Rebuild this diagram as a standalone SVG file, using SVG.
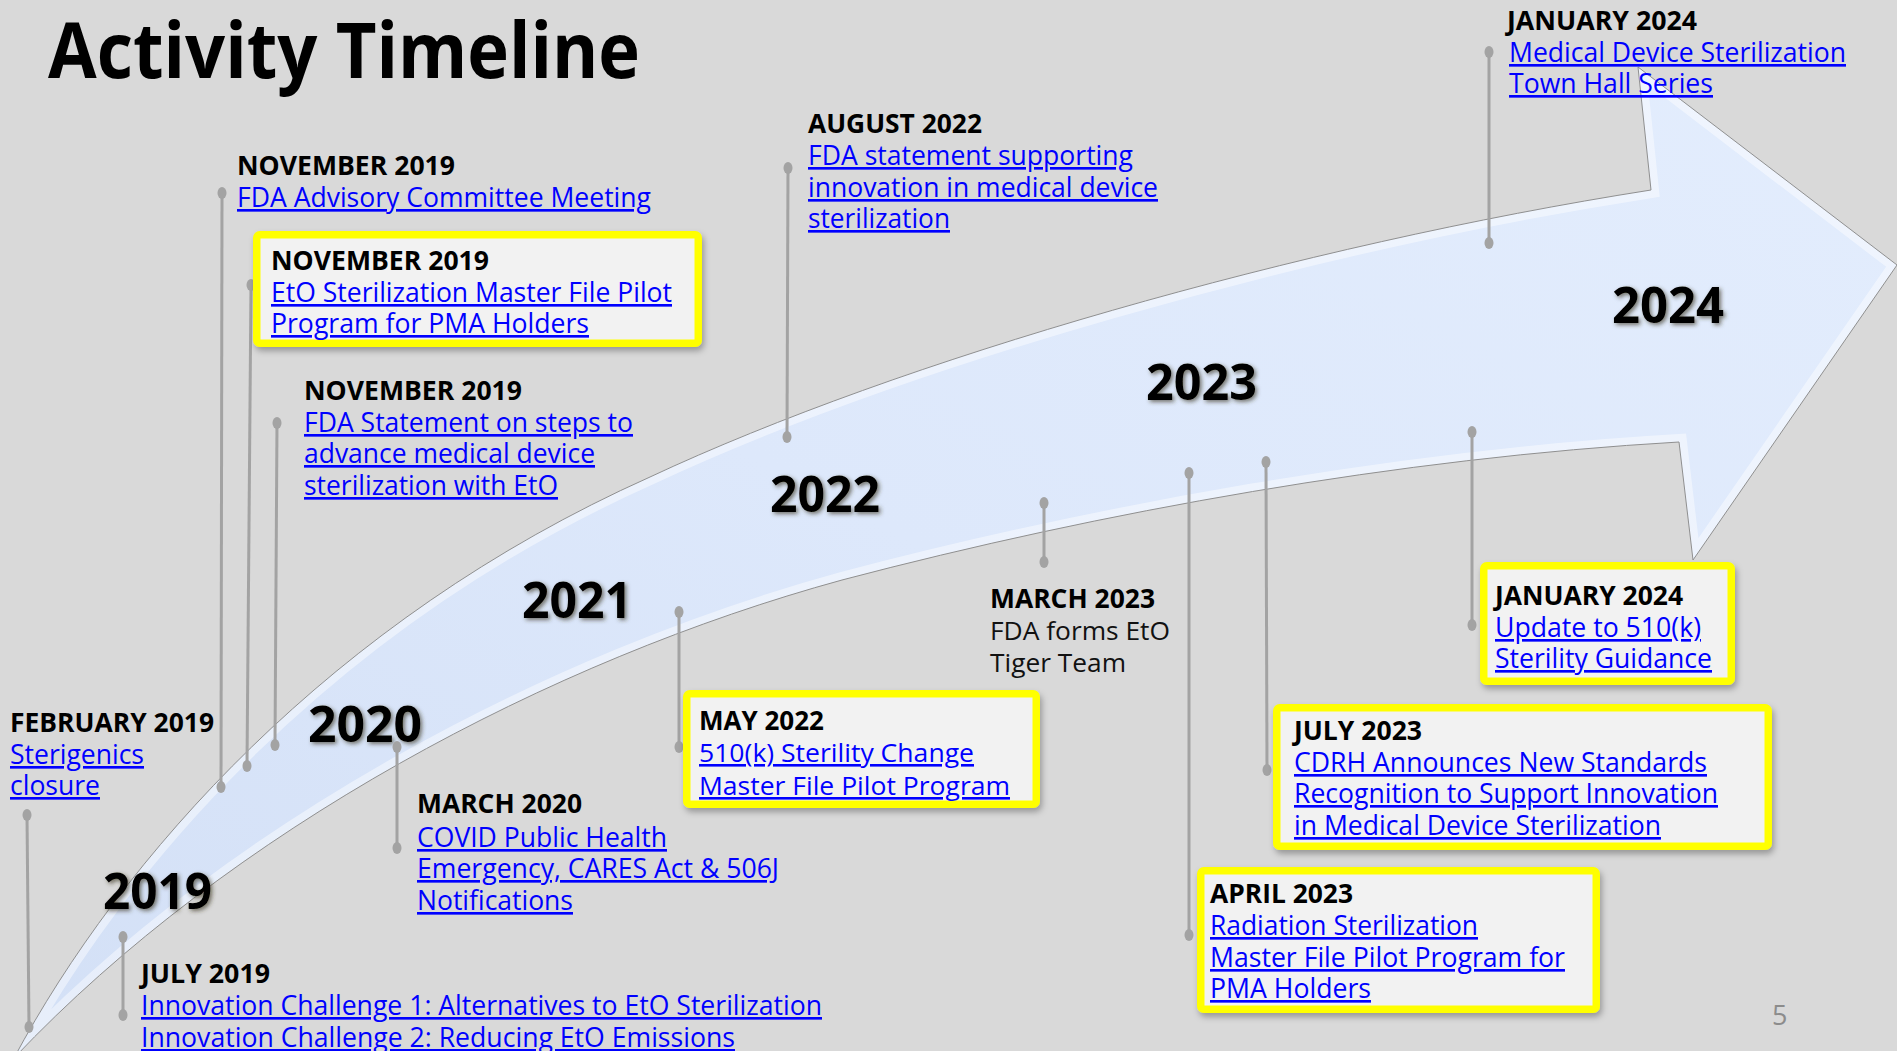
<svg xmlns="http://www.w3.org/2000/svg" width="1897" height="1051" viewBox="0 0 1897 1051">
  <defs>
    <style>
      text { font-family: "Open Sans", "Liberation Sans", sans-serif; }
      .lbl { font-size: 26.5px; font-weight: 700; fill: #000; }
      .lnk { font-size: 26.5px; fill: #0000ff; text-decoration: underline; }
      .plain { font-size: 26px; fill: #111; }
      .year { font-size: 50px; font-weight: 700; fill: #000; filter: url(#glow); }
      .title { font-size: 77px; font-weight: 700; fill: #000; }
      .stem { stroke: #a3a3a3; stroke-width: 3; fill: none; }
      .dot { fill: #a3a3a3; }
      .box { fill: #f2f2f2; stroke: #ffff00; stroke-width: 7.5; filter: url(#shadow); }
      .page { font-size: 27px; fill: #8c8c8c; }
    </style>
    <linearGradient id="band" x1="0" y1="1" x2="1" y2="0">
      <stop offset="0" stop-color="#d3e0f6"/>
      <stop offset="0.5" stop-color="#dde8fb"/>
      <stop offset="1" stop-color="#e3edfd"/>
    </linearGradient>
    <filter id="glow" x="-20%" y="-30%" width="140%" height="160%">
      <feGaussianBlur in="SourceAlpha" stdDeviation="2.2" result="b"/>
      <feOffset in="b" dx="1.5" dy="2" result="o"/>
      <feFlood flood-color="#3a3520" flood-opacity="0.65"/>
      <feComposite in2="o" operator="in" result="s"/>
      <feMerge><feMergeNode in="s"/><feMergeNode in="SourceGraphic"/></feMerge>
    </filter>
    <filter id="shadow" x="-10%" y="-10%" width="120%" height="130%">
      <feDropShadow dx="2" dy="4" stdDeviation="3" flood-color="#000" flood-opacity="0.3"/>
    </filter>
    <clipPath id="arrowClip">
      <path id="arrowShape" d="M 14 1058 C 120 860 330 620 650 477 C 900 360 1300 245 1651 190 L 1638 67 L 1897 265 L 1693 560 L 1679 442 C 1400 458 1100 512 842 580 C 550 660 230 830 14 1058 Z"/>
    </clipPath>
  </defs>

  <rect width="1897" height="1051" fill="#d9d9d9"/>

  <!-- sweeping timeline arrow -->
  <g id="arrow">
    <use href="#arrowShape" fill="url(#band)"/>
    <use href="#arrowShape" fill="none" stroke="#ffffff" stroke-opacity="0.45" stroke-width="16" clip-path="url(#arrowClip)"/>
    <use href="#arrowShape" fill="none" stroke="#8f8f8f" stroke-width="1"/>
  </g>

  <text class="title" x="48" y="78" textLength="592" lengthAdjust="spacingAndGlyphs">Activity Timeline</text>

  <!-- year markers along the arrow -->
  <g id="years">
    <text class="year" x="103" y="909" textLength="109" lengthAdjust="spacingAndGlyphs">2019</text>
    <text class="year" x="308" y="742" textLength="114" lengthAdjust="spacingAndGlyphs">2020</text>
    <text class="year" x="522" y="618" textLength="110" lengthAdjust="spacingAndGlyphs">2021</text>
    <text class="year" x="770" y="512" textLength="110" lengthAdjust="spacingAndGlyphs">2022</text>
    <text class="year" x="1146" y="400" textLength="111" lengthAdjust="spacingAndGlyphs">2023</text>
    <text class="year" x="1612" y="323" textLength="112" lengthAdjust="spacingAndGlyphs">2024</text>
  </g>

  <!-- stems linking events to the arrow -->
  <g id="connectors">
    <line class="stem" x1="27" y1="815" x2="29" y2="1027"/>
    <ellipse class="dot" cx="27" cy="815" rx="4.5" ry="6"/><ellipse class="dot" cx="29" cy="1027" rx="4.5" ry="6"/>
    <line class="stem" x1="222" y1="193" x2="221" y2="787"/>
    <ellipse class="dot" cx="222" cy="193" rx="4.5" ry="6"/><ellipse class="dot" cx="221" cy="787" rx="4.5" ry="6"/>
    <line class="stem" x1="251" y1="285" x2="247" y2="766"/>
    <ellipse class="dot" cx="251" cy="285" rx="4.5" ry="6"/><ellipse class="dot" cx="247" cy="766" rx="4.5" ry="6"/>
    <line class="stem" x1="277" y1="423" x2="275" y2="745"/>
    <ellipse class="dot" cx="277" cy="423" rx="4.5" ry="6"/><ellipse class="dot" cx="275" cy="745" rx="4.5" ry="6"/>
    <line class="stem" x1="123" y1="937" x2="123" y2="1015"/>
    <ellipse class="dot" cx="123" cy="937" rx="4.5" ry="6"/><ellipse class="dot" cx="123" cy="1015" rx="4.5" ry="6"/>
    <line class="stem" x1="397" y1="747" x2="397" y2="848"/>
    <ellipse class="dot" cx="397" cy="747" rx="4.5" ry="6"/><ellipse class="dot" cx="397" cy="848" rx="4.5" ry="6"/>
    <line class="stem" x1="679" y1="612" x2="679" y2="747"/>
    <ellipse class="dot" cx="679" cy="612" rx="4.5" ry="6"/><ellipse class="dot" cx="679" cy="747" rx="4.5" ry="6"/>
    <line class="stem" x1="788" y1="168" x2="787" y2="437"/>
    <ellipse class="dot" cx="788" cy="168" rx="4.5" ry="6"/><ellipse class="dot" cx="787" cy="437" rx="4.5" ry="6"/>
    <line class="stem" x1="1044" y1="503" x2="1044" y2="562"/>
    <ellipse class="dot" cx="1044" cy="503" rx="4.5" ry="6"/><ellipse class="dot" cx="1044" cy="562" rx="4.5" ry="6"/>
    <line class="stem" x1="1189" y1="473" x2="1189" y2="935"/>
    <ellipse class="dot" cx="1189" cy="473" rx="4.5" ry="6"/><ellipse class="dot" cx="1189" cy="935" rx="4.5" ry="6"/>
    <line class="stem" x1="1266" y1="462" x2="1267" y2="770"/>
    <ellipse class="dot" cx="1266" cy="462" rx="4.5" ry="6"/><ellipse class="dot" cx="1267" cy="770" rx="4.5" ry="6"/>
    <line class="stem" x1="1472" y1="432" x2="1472" y2="625"/>
    <ellipse class="dot" cx="1472" cy="432" rx="4.5" ry="6"/><ellipse class="dot" cx="1472" cy="625" rx="4.5" ry="6"/>
    <line class="stem" x1="1489" y1="52" x2="1489" y2="243"/>
    <ellipse class="dot" cx="1489" cy="52" rx="4.5" ry="6"/><ellipse class="dot" cx="1489" cy="243" rx="4.5" ry="6"/>
  </g>

  <g id="feb-2019">
    <text class="lbl" x="10" y="732" textLength="204" lengthAdjust="spacingAndGlyphs">FEBRUARY 2019</text>
    <text class="lnk" x="10" y="764" textLength="134" lengthAdjust="spacingAndGlyphs">Sterigenics</text>
    <text class="lnk" x="10" y="795" textLength="90" lengthAdjust="spacingAndGlyphs">closure</text>
  </g>

  <g id="nov-2019-advisory">
    <text class="lbl" x="237" y="175" textLength="218" lengthAdjust="spacingAndGlyphs">NOVEMBER 2019</text>
    <text class="lnk" x="237" y="207" textLength="414" lengthAdjust="spacingAndGlyphs">FDA Advisory Committee Meeting</text>
  </g>

  <g id="nov-2019-pilot">
    <rect class="box" x="256.75" y="234.75" width="441.5" height="108.5" rx="3"/>
    <text class="lbl" x="271" y="270" textLength="218" lengthAdjust="spacingAndGlyphs">NOVEMBER 2019</text>
    <text class="lnk" x="271" y="302" textLength="401" lengthAdjust="spacingAndGlyphs">EtO Sterilization Master File Pilot</text>
    <text class="lnk" x="271" y="333" textLength="318" lengthAdjust="spacingAndGlyphs">Program for PMA Holders</text>
  </g>

  <g id="nov-2019-statement">
    <text class="lbl" x="304" y="400" textLength="218" lengthAdjust="spacingAndGlyphs">NOVEMBER 2019</text>
    <text class="lnk" x="304" y="432" textLength="329" lengthAdjust="spacingAndGlyphs">FDA Statement on steps to</text>
    <text class="lnk" x="304" y="463" textLength="291" lengthAdjust="spacingAndGlyphs">advance medical device</text>
    <text class="lnk" x="304" y="495" textLength="254" lengthAdjust="spacingAndGlyphs">sterilization with EtO</text>
  </g>

  <g id="jul-2019">
    <text class="lbl" x="141" y="983" textLength="129" lengthAdjust="spacingAndGlyphs">JULY 2019</text>
    <text class="lnk" x="141" y="1015" textLength="681" lengthAdjust="spacingAndGlyphs">Innovation Challenge 1: Alternatives to EtO Sterilization</text>
    <text class="lnk" x="141" y="1047" textLength="594" lengthAdjust="spacingAndGlyphs">Innovation Challenge 2: Reducing EtO Emissions</text>
  </g>

  <g id="mar-2020">
    <text class="lbl" x="417" y="813" textLength="165" lengthAdjust="spacingAndGlyphs">MARCH 2020</text>
    <text class="lnk" x="417" y="847" textLength="250" lengthAdjust="spacingAndGlyphs">COVID Public Health</text>
    <text class="lnk" x="417" y="878" textLength="362" lengthAdjust="spacingAndGlyphs">Emergency, CARES Act &amp; 506J</text>
    <text class="lnk" x="417" y="910" textLength="156" lengthAdjust="spacingAndGlyphs">Notifications</text>
  </g>

  <g id="may-2022">
    <rect class="box" x="686.75" y="693.75" width="349.5" height="110.5" rx="3"/>
    <text class="lbl" x="699" y="730" textLength="125" lengthAdjust="spacingAndGlyphs" style="font-size:26px">MAY 2022</text>
    <text class="lnk" x="699" y="762" textLength="275" lengthAdjust="spacingAndGlyphs" style="font-size:26px">510(k) Sterility Change</text>
    <text class="lnk" x="699" y="795" textLength="311" lengthAdjust="spacingAndGlyphs" style="font-size:26px">Master File Pilot Program</text>
  </g>

  <g id="aug-2022">
    <text class="lbl" x="808" y="133" textLength="174" lengthAdjust="spacingAndGlyphs">AUGUST 2022</text>
    <text class="lnk" x="808" y="165" textLength="325" lengthAdjust="spacingAndGlyphs">FDA statement supporting</text>
    <text class="lnk" x="808" y="197" textLength="350" lengthAdjust="spacingAndGlyphs">innovation in medical device</text>
    <text class="lnk" x="808" y="228" textLength="142" lengthAdjust="spacingAndGlyphs">sterilization</text>
  </g>

  <g id="mar-2023">
    <text class="lbl" x="990" y="608" textLength="165" lengthAdjust="spacingAndGlyphs" style="font-size:26px">MARCH 2023</text>
    <text class="plain" x="990" y="640" textLength="180" lengthAdjust="spacingAndGlyphs">FDA forms EtO</text>
    <text class="plain" x="990" y="672" textLength="136" lengthAdjust="spacingAndGlyphs">Tiger Team</text>
  </g>

  <g id="apr-2023">
    <rect class="box" x="1200.75" y="870.75" width="395.5" height="138.5" rx="3"/>
    <text class="lbl" x="1210" y="903" textLength="143" lengthAdjust="spacingAndGlyphs">APRIL 2023</text>
    <text class="lnk" x="1210" y="935" textLength="268" lengthAdjust="spacingAndGlyphs">Radiation Sterilization</text>
    <text class="lnk" x="1210" y="967" textLength="355" lengthAdjust="spacingAndGlyphs">Master File Pilot Program for</text>
    <text class="lnk" x="1210" y="998" textLength="161" lengthAdjust="spacingAndGlyphs">PMA Holders</text>
  </g>

  <g id="jul-2023">
    <rect class="box" x="1276.75" y="707.75" width="491.5" height="138.5" rx="3"/>
    <text class="lbl" x="1294" y="740" textLength="128" lengthAdjust="spacingAndGlyphs">JULY 2023</text>
    <text class="lnk" x="1294" y="772" textLength="413" lengthAdjust="spacingAndGlyphs">CDRH Announces New Standards</text>
    <text class="lnk" x="1294" y="803" textLength="424" lengthAdjust="spacingAndGlyphs">Recognition to Support Innovation</text>
    <text class="lnk" x="1294" y="835" textLength="367" lengthAdjust="spacingAndGlyphs">in Medical Device Sterilization</text>
  </g>

  <g id="jan-2024-guidance">
    <rect class="box" x="1483.75" y="565.75" width="247.5" height="115.5" rx="3"/>
    <text class="lbl" x="1495" y="605" textLength="188" lengthAdjust="spacingAndGlyphs">JANUARY 2024</text>
    <text class="lnk" x="1495" y="637" textLength="206" lengthAdjust="spacingAndGlyphs">Update to 510(k)</text>
    <text class="lnk" x="1495" y="668" textLength="217" lengthAdjust="spacingAndGlyphs">Sterility Guidance</text>
  </g>

  <g id="jan-2024-townhall">
    <text class="lbl" x="1507" y="30" textLength="190" lengthAdjust="spacingAndGlyphs">JANUARY 2024</text>
    <text class="lnk" x="1509" y="62" textLength="337" lengthAdjust="spacingAndGlyphs">Medical Device Sterilization</text>
    <text class="lnk" x="1509" y="93" textLength="204" lengthAdjust="spacingAndGlyphs">Town Hall Series</text>
  </g>

  <text class="page" x="1772" y="1025">5</text>
</svg>
